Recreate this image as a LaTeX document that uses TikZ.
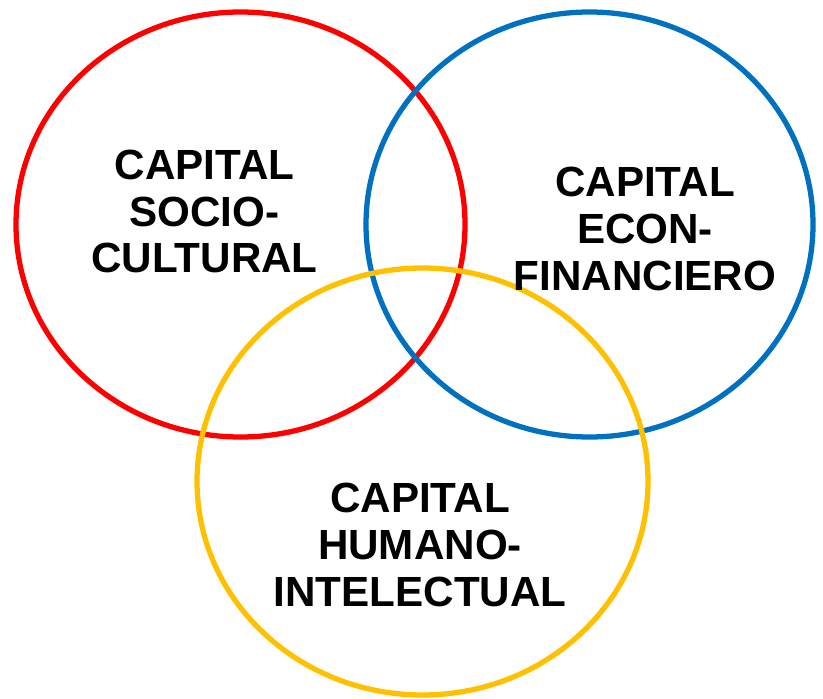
\documentclass[tikz,border=0pt]{standalone}
\usepackage{fontspec}
\setmainfont{Liberation Sans}
\usetikzlibrary{positioning}
\definecolor{rojo}{HTML}{FF0000}
\definecolor{azul}{HTML}{0070C0}
\definecolor{amarillo}{HTML}{FFC000}
\begin{document}
\begin{tikzpicture}[font=\bfseries\fontsize{24}{26.7}\selectfont,
	capital/.style={align=center, inner sep=0pt},
	anillo/.style={line width=3pt}]
		\useasboundingbox (0,0) rectangle (16.46,13.96);
		
		% --- Círculos
		\draw[anillo, rojo]     (4.81,9.47) ellipse (4.49cm and 4.25cm);
		\draw[anillo, azul]     (11.79,9.47) ellipse (4.47cm and 4.25cm);
		\draw[anillo, amarillo] (8.45,4.33) ellipse (4.51cm and 4.27cm);
		
		% --- Textos
		\node[capital] (socio) at (4.09,9.73) {CAPITAL\\SOCIO-\\CULTURAL};
		\node[capital] (econ)  at (12.9,9.38) {CAPITAL\\ECON-\\FINANCIERO};
		\node[capital] (humano) at (8.4,3.06) {CAPITAL\\HUMANO-\\INTELECTUAL};
		
	\end{tikzpicture}
\end{document}
